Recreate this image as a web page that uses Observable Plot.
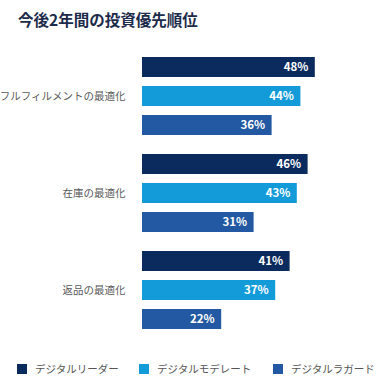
<!DOCTYPE html>
<html>
<head>
<meta charset="utf-8">
<script src="https://cdn.jsdelivr.net/npm/d3@7"></script>
<script src="https://cdn.jsdelivr.net/npm/@observablehq/plot@0.6"></script>
<style>
  html, body { margin: 0; padding: 0; background: #fff; }
  body { width: 378px; height: 384px; overflow: hidden; font-family: "Noto Sans CJK JP", "Noto Sans", sans-serif; }
  #title { height: 40px; box-sizing: border-box; padding: 9px 0 0 18px; font-size: 15.5px; font-weight: 700; color: #1c2b4a; line-height: 20px; }
  #legend { position: relative; height: 45px; font-size: 10.5px; color: #555; }
  .item { position: absolute; top: 22px; display: flex; align-items: center; }
  .sw { width: 10px; height: 10px; margin-right: 8px; }
  #chart svg { display: block; overflow: visible; }
</style>
</head>
<body>
<div id="title">今後2年間の投資優先順位</div>
<div id="chart"></div>
<div id="legend"></div>
<script>
const categories = ["フルフィルメントの最適化", "在庫の最適化", "返品の最適化"];
const seriesNames = ["デジタルリーダー", "デジタルモデレート", "デジタルラガード"];
const leaders = [48, 46, 41];
const moderates = [44, 43, 37];
const laggards = [36, 31, 22];
const colors = ["#0b2b5e", "#139bd9", "#2359a2"];

const seriesValues = [leaders, moderates, laggards];
const data = [];
categories.forEach((c, i) => {
  seriesNames.forEach((s, j) => {
    data.push({category: c, series: s, value: seriesValues[j][i]});
  });
});

const chart = Plot.plot({
  width: 378,
  height: 299,
  marginLeft: 142,
  marginRight: 20,
  marginTop: 8,
  marginBottom: 0,
  style: {fontFamily: "'Noto Sans CJK JP', 'Noto Sans', sans-serif", background: "#fff"},
  facet: {data, y: "category"},
  fy: {domain: categories, padding: 0, axis: "left", label: null, tickSize: 0, tickPadding: 17},
  y: {domain: seriesNames, axis: null, paddingInner: 0.3, paddingOuter: 0.267},
  x: {domain: [0, 60], axis: null},
  color: {domain: seriesNames, range: colors},
  marks: [
    Plot.barX(data, {x: "value", y: "series", fill: "series"}),
    Plot.text(data, {x: "value", y: "series", text: d => d.value + "%", textAnchor: "end", dx: -7, fill: "white", fontWeight: "bold", fontSize: 11.5})
  ]
});
document.getElementById("chart").appendChild(chart);
d3.select(chart).selectAll("g[aria-label='fy-axis'] text, g[aria-label='fy-axis tick label'] text")
  .attr("font-size", 10.5).attr("fill", "#5a5a5a");

const legend = document.getElementById("legend");
const xs = [17, 139, 273];
seriesNames.forEach((s, i) => {
  const it = document.createElement("div");
  it.className = "item";
  it.style.left = xs[i] + "px";
  it.innerHTML = `<div class="sw" style="background:${colors[i]}"></div><span>${s}</span>`;
  legend.appendChild(it);
});
</script>
</body>
</html>
